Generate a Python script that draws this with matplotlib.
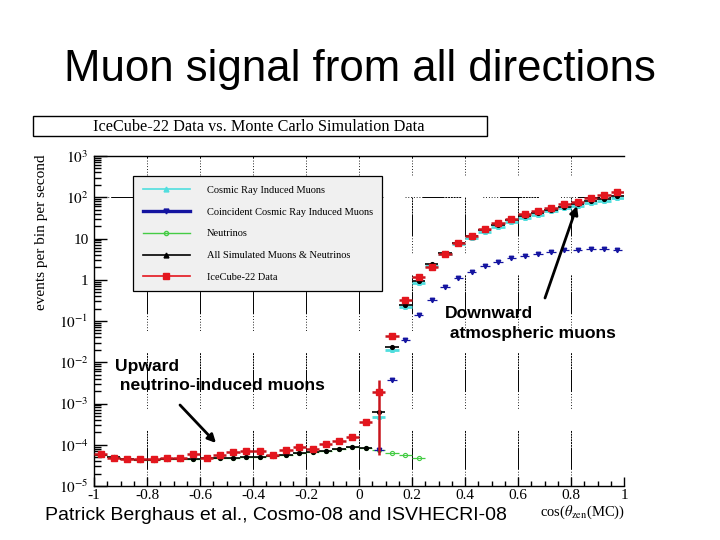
import numpy as np
import matplotlib

matplotlib.use("Agg")
import matplotlib.pyplot as plt
from matplotlib.lines import Line2D
from matplotlib.patches import Rectangle, FancyArrowPatch

plt.rcParams["mathtext.fontset"] = "stix"
plt.rcParams["lines.scale_dashes"] = False
SERIF = "Liberation Serif"
SANS = "Liberation Sans"

# cos(zenith) bins: 40 bins of width 0.05
bin_centers = np.round(np.arange(-0.975, 1.0, 0.05), 3)
half_width = 0.025

# log10(events per bin per second)
data_log = [-4.22, -4.31, -4.35, -4.35, -4.35, -4.31, -4.31, -4.23, -4.31, -4.26,
            -4.17, -4.14, -4.14, -4.26, -4.13, -4.06, -4.10, -3.99, -3.90, -3.80,
            -3.44, -2.73, -1.36, -0.50, 0.06, 0.32, 0.62, 0.88, 1.06, 1.22,
            1.37, 1.47, 1.59, 1.67, 1.75, 1.83, 1.89, 1.97, 2.05, 2.12]
data_relerr = [0.15] * 20 + [0.12, 0.97, 0.08, 0.04] + [0.02] * 16

allsim_log = [-4.25, -4.29, -4.34, -4.36, -4.36, -4.34, -4.34, -4.34, -4.33, -4.31,
              -4.31, -4.29, -4.29, -4.27, -4.25, -4.21, -4.17, -4.14, -4.11, -4.06,
              -4.09, -3.20, -1.62, -0.61, -0.02, 0.38, 0.66, 0.90, 1.06, 1.20,
              1.33, 1.44, 1.54, 1.62, 1.70, 1.77, 1.83, 1.90, 1.96, 2.02]

cosmic_x = bin_centers[21:]
cosmic_log = [-3.32, -1.70, -0.67, -0.09, 0.33, 0.62, 0.86, 1.02, 1.16, 1.29,
              1.40, 1.50, 1.58, 1.66, 1.73, 1.79, 1.86, 1.92, 1.98]

coinc_x = bin_centers[21:]
coinc_log = [-4.13, -2.42, -1.46, -0.86, -0.48, -0.17, 0.04, 0.20, 0.33, 0.44,
             0.52, 0.58, 0.62, 0.67, 0.71, 0.72, 0.75, 0.74, 0.71]

nu_x = bin_centers[:25]
nu_log = [-4.25, -4.29, -4.34, -4.36, -4.36, -4.34, -4.34, -4.34, -4.33, -4.31,
          -4.31, -4.29, -4.29, -4.27, -4.25, -4.21, -4.17, -4.14, -4.11, -4.06,
          -4.09, -4.12, -4.19, -4.25, -4.31]

labels = ["Cosmic Ray Induced Muons", "Coincident Cosmic Ray Induced Muons",
          "Neutrinos", "All Simulated Muons & Neutrinos", "IceCube-22 Data"]

C_CYAN, C_BLUE, C_GREEN, C_BLACK, C_RED = "#50dede", "#1414a0", "#44cc44", "black", "#e4161e"

W, H = 720, 540


def fpos(x, y):
    return x / W, 1 - y / H


fig = plt.figure(figsize=(7.2, 5.4), dpi=100)
ax = fig.add_axes([94 / W, 1 - 486 / H, 530 / W, 330 / H])

# grid: ROOT-like broken dotted lines
grid_dash = (0, [0.6, 1.4] * 6 + [16])
for gx in [-0.8, -0.6, -0.4, -0.2, 0, 0.2, 0.4, 0.6, 0.8, 1.0]:
    ax.axvline(gx, color="black", lw=0.7, ls=grid_dash, zorder=0)
ax.axhline(100, color="black", lw=0.7, ls=grid_dash, zorder=0)

ax.errorbar(cosmic_x, 10 ** np.array(cosmic_log), xerr=half_width, fmt="^", ms=2.6,
            color=C_CYAN, elinewidth=2.0, zorder=2)
ax.errorbar(nu_x, 10 ** np.array(nu_log), xerr=half_width, fmt="o", ms=3, mfc="none",
            mew=0.8, color=C_GREEN, elinewidth=0.9, zorder=2)
ax.errorbar(coinc_x, 10 ** np.array(coinc_log), xerr=0.018, fmt="v", ms=3.2,
            color=C_BLUE, elinewidth=0.9, zorder=3)
ax.errorbar(bin_centers, 10 ** np.array(allsim_log), xerr=half_width, fmt="o", ms=2.7,
            color=C_BLACK, elinewidth=1.2, zorder=4)
data_vals = 10 ** np.array(data_log)
ax.errorbar(bin_centers, data_vals, xerr=half_width, yerr=data_vals * np.array(data_relerr),
            fmt="s", ms=3.8, color=C_RED, ecolor="#c8141c", elinewidth=1.8, zorder=5)

ax.set_xlim(-1, 1)
ax.set_yscale("log")
ax.set_ylim(1e-5, 1e3)

xt = [-1, -0.8, -0.6, -0.4, -0.2, 0, 0.2, 0.4, 0.6, 0.8, 1]
ax.set_xticks(xt, ["-1", "-0.8", "-0.6", "-0.4", "-0.2", "0", "0.2", "0.4", "0.6", "0.8", "1"])
ax.set_xticks(np.arange(-1, 1.001, 0.05), minor=True)
yt = [1e3, 1e2, 10, 1, 1e-1, 1e-2, 1e-3, 1e-4, 1e-5]
ax.set_yticks(yt, [r"$10^{3}$", r"$10^{2}$", "10", "1", r"$10^{-1}$", r"$10^{-2}$",
                   r"$10^{-3}$", r"$10^{-4}$", r"$10^{-5}$"])
for lab in ax.get_xticklabels() + ax.get_yticklabels():
    lab.set_fontfamily(SERIF)
    lab.set_fontsize(11)
ax.tick_params(axis="x", which="major", direction="in", length=6.5, width=1, pad=2)
ax.tick_params(axis="x", which="minor", direction="in", length=3.5, width=1)
ax.tick_params(axis="y", which="major", direction="in", length=9, width=1, pad=4)
ax.tick_params(axis="y", which="minor", direction="in", length=5, width=1)
ax.tick_params(top=False, right=False, which="both")
ax.spines["right"].set_visible(False)
for s in ["left", "bottom", "top"]:
    ax.spines[s].set_linewidth(1)

handles = [
    Line2D([], [], color=C_CYAN, marker="^", ms=3.5, lw=1.2),
    Line2D([], [], color=C_BLUE, marker="v", ms=3.5, lw=2.4),
    Line2D([], [], color=C_GREEN, marker="o", ms=3, mfc="none", lw=1.0),
    Line2D([], [], color=C_BLACK, marker="^", ms=3.5, lw=1.2),
    Line2D([], [], color=C_RED, marker="s", ms=4, lw=1.2),
]
leg = ax.legend(handles, labels, loc="upper left", bbox_to_anchor=(0.064, 0.6, 0.489, 0.3545),
                mode="expand", prop={"family": SERIF, "size": 7.5}, handlelength=4.6,
                handletextpad=1.6, labelspacing=1.2, borderpad=0.9, fancybox=False,
                framealpha=1, facecolor="#f0f0f0", edgecolor="black")
leg.get_frame().set_linewidth(0.9)
leg.set_zorder(6)

fig.text(*fpos(42, 155), "events per bin per second", rotation=90, ha="center", va="top",
         family=SERIF, fontsize=11)
fig.text(*fpos(625, 512), r"cos($\theta_{\rm zen}$(MC))", ha="right", va="center",
         family=SERIF, fontsize=10.5)

# title box
x0, y0 = fpos(33, 136)
fig.add_artist(Rectangle((x0, y0), 454 / W, 20 / H, transform=fig.transFigure,
                         facecolor="white", edgecolor="black", lw=1))
fig.text(*fpos(259, 127), "IceCube-22 Data vs. Monte Carlo Simulation Data", ha="center",
         va="center", family=SERIF, fontsize=11.7)

fig.text(*fpos(360, 69), "Muon signal from all directions", ha="center", va="center",
         family=SANS, fontsize=31.5)

fig.text(*fpos(445, 306), "Downward\n atmospheric muons", ha="left", va="top",
         family=SANS, fontsize=12.6, fontweight="bold", linespacing=1.45)
fig.text(*fpos(115, 359), "Upward\n neutrino-induced muons", ha="left", va="top",
         family=SANS, fontsize=12.6, fontweight="bold", linespacing=1.35)

arrow = dict(arrowstyle="-|>", color="black", lw=2, mutation_scale=12, shrinkA=0, shrinkB=0)
fig.add_artist(FancyArrowPatch(fpos(545, 298), fpos(577, 206),
                               transform=fig.transFigure, **arrow))
fig.add_artist(FancyArrowPatch(fpos(180, 405), fpos(216, 443),
                               transform=fig.transFigure, **arrow))

fig.text(*fpos(45, 515), "Patrick Berghaus et al., Cosmo-08 and ISVHECRI-08", ha="left",
         va="center", family=SANS, fontsize=14)

fig.savefig("out.png", dpi=100)
